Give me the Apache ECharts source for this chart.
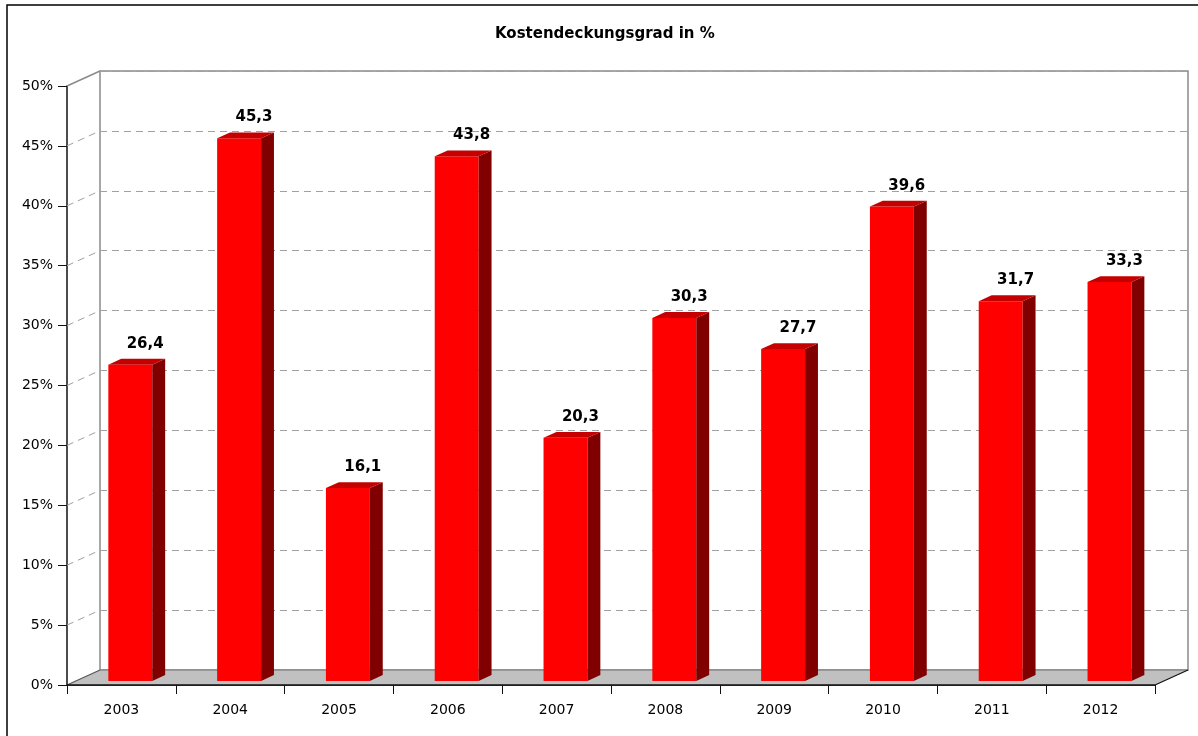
<!DOCTYPE html>
<html>
<head>
<meta charset="utf-8">
<title>Kostendeckungsgrad in %</title>
<script src="https://cdn.jsdelivr.net/npm/echarts@6/dist/echarts.min.js"></script>
<style>
  html, body { margin: 0; padding: 0; background: #fff; }
  #chart { width: 1198px; height: 736px; }
</style>
</head>
<body>
<div id="chart"></div>
<script>
// Years on the category axis
const years = ['2003', '2004', '2005', '2006', '2007', '2008', '2009', '2010', '2011', '2012'];
// Cost coverage ratio per year, in percent
const coverage = [26.4, 45.3, 16.1, 43.8, 20.3, 30.3, 27.7, 39.6, 31.7, 33.3];
// Value axis range and step
const axisMin = 0;
const axisMax = 50;
const axisStep = 5;
const axisTicks = [0, 5, 10, 15, 20, 25, 30, 35, 40, 45, 50];

// Pseudo-3D depth of the chart box (back wall offset)
const WALL_DX = 33;
const WALL_DY = -15;
// Bars sit between these fractions of the box depth
const BAR_FRONT = 0.27;
const BAR_BACK = 0.66;
const BAR_WIDTH = 0.404;

const FONT = '"DejaVu Sans", Verdana, sans-serif';

const chart = echarts.init(document.getElementById('chart'), null, { renderer: 'canvas' });

function fmt(v) {
  return v.toFixed(1).replace('.', ',');
}

// Floor, diagonal guide lines and box edges
function renderBox(params, api) {
  const cs = params.coordSys;
  const v = api.value(1);
  const y = api.coord([0, v])[1];
  const x0 = cs.x;
  const x1 = cs.x + cs.width;
  const children = [];
  if (v === axisMin) {
    children.push({
      type: 'polygon',
      shape: { points: [[x0, y], [x1, y], [x1 + WALL_DX, y + WALL_DY], [x0 + WALL_DX, y + WALL_DY]] },
      style: { fill: '#c0c0c0', stroke: null }
    });
    children.push({
      type: 'line',
      shape: { x1: x0 + WALL_DX, y1: y + WALL_DY, x2: x1 + WALL_DX, y2: y + WALL_DY },
      style: { stroke: '#8a8a8a', lineWidth: 1.5 }
    });
    children.push({
      type: 'line',
      shape: { x1: x1, y1: y, x2: x1 + WALL_DX, y2: y + WALL_DY },
      style: { stroke: '#111', lineWidth: 1.2 }
    });
    children.push({
      type: 'line',
      shape: { x1: x0, y1: y, x2: x0 + WALL_DX, y2: y + WALL_DY },
      style: { stroke: '#555', lineWidth: 1.2 }
    });
    children.push({
      type: 'line',
      shape: { x1: x0, y1: y, x2: x1, y2: y },
      style: { stroke: '#111', lineWidth: 1.5 }
    });
  } else if (v === axisMax) {
    children.push({
      type: 'line',
      shape: { x1: x0, y1: y, x2: x0 + WALL_DX, y2: y + WALL_DY },
      style: { stroke: '#8a8a8a', lineWidth: 1.5 }
    });
  } else {
    children.push({
      type: 'line',
      shape: { x1: x0, y1: y, x2: x0 + WALL_DX, y2: y + WALL_DY },
      style: { stroke: '#a0a0a0', lineWidth: 1, lineDash: [7, 5] }
    });
  }
  return { type: 'group', children: children };
}

// 3D-looking bar: front face, side face, top face and value label
function renderBar(params, api) {
  const idx = api.value(0);
  const val = api.value(1);
  const top = api.coord([idx, val]);
  const base = api.coord([idx, axisMin]);
  const band = api.size([1, 0])[0];
  const w = band * BAR_WIDTH;
  const fx = top[0] + WALL_DX * BAR_FRONT - w / 2;
  const fTop = top[1] + WALL_DY * BAR_FRONT;
  const fBot = base[1] + WALL_DY * BAR_FRONT;
  const dx = WALL_DX * (BAR_BACK - BAR_FRONT);
  const dy = WALL_DY * (BAR_BACK - BAR_FRONT);
  return {
    type: 'group',
    children: [
      {
        type: 'rect',
        shape: { x: fx, y: fTop, width: w, height: fBot - fTop },
        style: { fill: '#ff0000' }
      },
      {
        type: 'polygon',
        shape: { points: [[fx + w, fTop], [fx + w + dx, fTop + dy], [fx + w + dx, fBot + dy], [fx + w, fBot]] },
        style: { fill: '#800000' }
      },
      {
        type: 'polygon',
        shape: { points: [[fx, fTop], [fx + dx, fTop + dy], [fx + w + dx, fTop + dy], [fx + w, fTop]] },
        style: { fill: '#c40000' }
      },
      {
        type: 'text',
        x: fx + w / 2 + dx + 2,
        y: fTop + dy - 15,
        style: {
          text: fmt(val),
          fill: '#000',
          font: 'bold 15px ' + FONT,
          align: 'center',
          verticalAlign: 'middle'
        }
      }
    ]
  };
}

const frontGrid = { left: 67, top: 86, width: 1088, height: 599 };
const backGrid = {
  left: 67 + WALL_DX, top: 86 + WALL_DY, width: 1088, height: 599,
  show: true, borderColor: '#8a8a8a', borderWidth: 1.5, backgroundColor: 'transparent'
};

chart.setOption({
  animation: false,
  backgroundColor: '#fff',
  title: {
    text: 'Kostendeckungsgrad in %',
    left: 490,
    top: 22,
    textStyle: { fontFamily: FONT, fontSize: 15, fontWeight: 'bold', color: '#000' }
  },
  graphic: [{
    type: 'rect',
    shape: { x: 7, y: 5, width: 1200, height: 740 },
    style: { fill: 'none', stroke: '#000', lineWidth: 1.5 },
    silent: true
  }],
  grid: [frontGrid, backGrid],
  xAxis: [
    {
      type: 'category',
      gridIndex: 0,
      data: years,
      axisLine: { show: true, lineStyle: { color: '#111', width: 1.5 } },
      axisTick: { show: true, length: 9, lineStyle: { color: '#111' } },
      axisLabel: { color: '#000', fontFamily: FONT, fontSize: 14, margin: 18 },
      splitLine: { show: false }
    },
    {
      type: 'category',
      gridIndex: 1,
      data: years,
      show: false
    }
  ],
  yAxis: [
    {
      type: 'value',
      gridIndex: 0,
      min: axisMin,
      max: axisMax,
      interval: axisStep,
      axisLine: { show: true, lineStyle: { color: '#111', width: 1.5 } },
      axisTick: { show: true, length: 9, lineStyle: { color: '#111' } },
      axisLabel: { color: '#000', fontFamily: FONT, fontSize: 14, margin: 14, formatter: '{value}%' },
      splitLine: { show: false }
    },
    {
      type: 'value',
      gridIndex: 1,
      min: axisMin,
      max: axisMax,
      interval: axisStep,
      axisLine: { show: false },
      axisTick: { show: false },
      axisLabel: { show: false },
      splitLine: { show: true, lineStyle: { color: '#a0a0a0', width: 1, type: [7, 5] } }
    }
  ],
  series: [
    {
      type: 'custom',
      name: 'box',
      xAxisIndex: 0,
      yAxisIndex: 0,
      z: 1,
      silent: true,
      renderItem: renderBox,
      data: axisTicks.map(function (t) { return [0, t]; })
    },
    {
      type: 'custom',
      name: 'Kostendeckungsgrad',
      xAxisIndex: 0,
      yAxisIndex: 0,
      z: 3,
      renderItem: renderBar,
      encode: { x: 0, y: 1 },
      data: coverage.map(function (v, i) { return [i, v]; })
    }
  ]
});
</script>
</body>
</html>
